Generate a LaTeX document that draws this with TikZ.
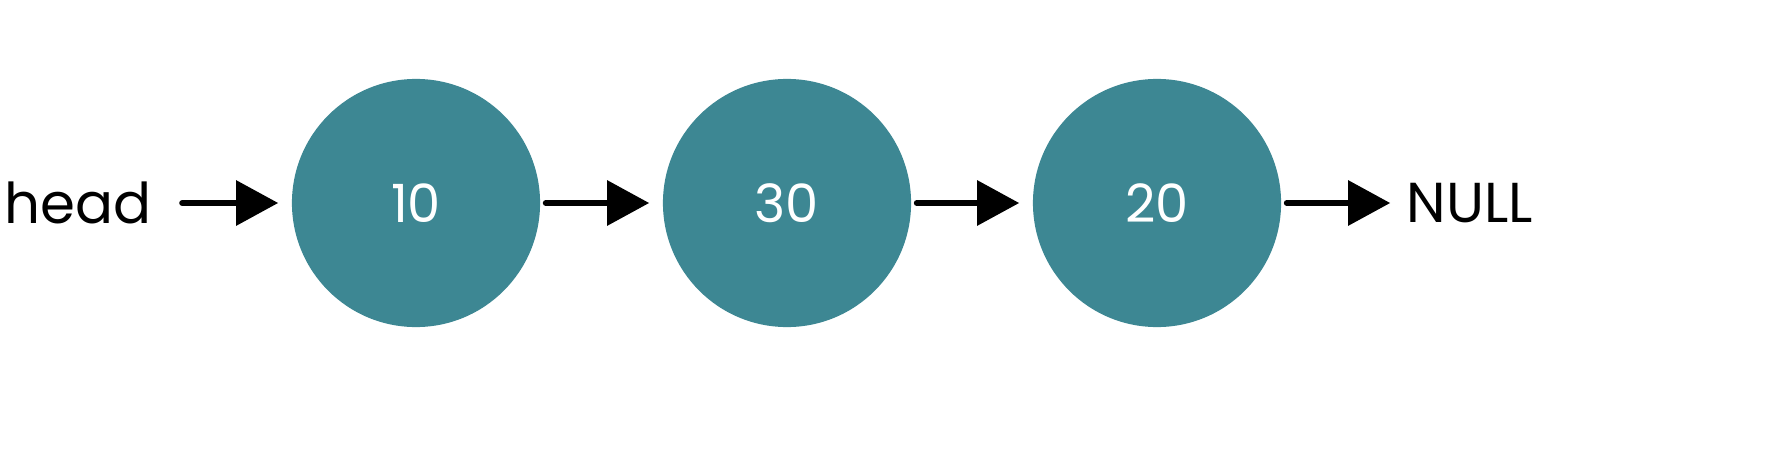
\documentclass[tikz,border=0pt]{standalone}
\usepackage{fontspec}
\setmainfont{Poppins}
\usetikzlibrary{arrows.meta}
\definecolor{nodeteal}{HTML}{3D8793}
\tikzset{
	listnode/.style={circle,fill=nodeteal,text=white,minimum size=2.48cm,inner sep=0pt,font=\fontsize{15}{15}\selectfont},
	endlabel/.style={inner sep=0pt,font=\fontsize{16}{16}\selectfont},
	link/.style={line width=0.06cm,line cap=round,-{Triangle[length=0.42cm,width=0.44cm]}}
}
\begin{document}
\begin{tikzpicture}[x=0.01cm,y=0.01cm]
		\useasboundingbox (0,0) rectangle (1780,448);
		\node[endlabel] (head) at (78,245) {head};
		\node[listnode] (n1) at (416,245) {10};
		\node[listnode] (n2) at (787,245) {30};
		\node[listnode] (n3) at (1157,245) {20};
		\node[endlabel] (null) at (1470,245) {NULL};
		\draw[link,shorten <=0.3cm,shorten >=0.13cm] (head.east) -- (n1.west);
		\draw[link,shorten <=0.05cm,shorten >=0.13cm] (n1.east) -- (n2.west);
		\draw[link,shorten <=0.05cm,shorten >=0.13cm] (n2.east) -- (n3.west);
		\draw[link,shorten <=0.05cm,shorten >=0.16cm] (n3.east) -- (null.west);
	\end{tikzpicture}
\end{document}
